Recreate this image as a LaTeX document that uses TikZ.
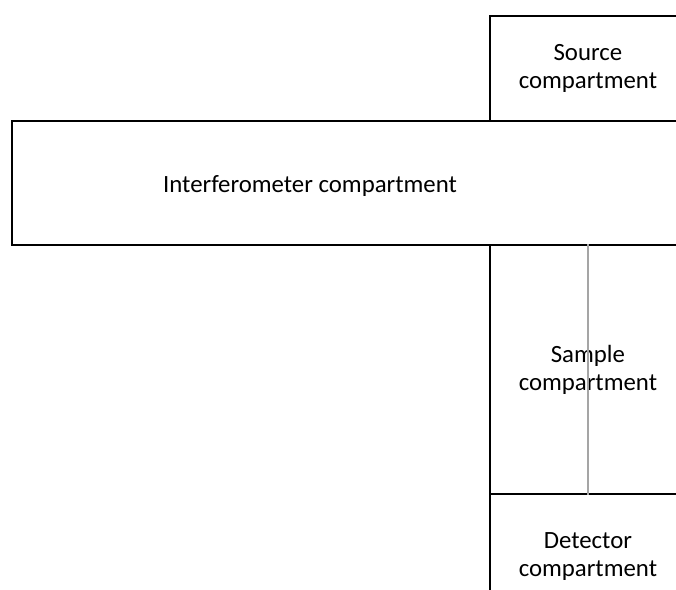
\documentclass[tikz,border=0pt]{standalone}
\usepackage{fontspec}
\setmainfont{Carlito}
\definecolor{beamgray}{RGB}{165,165,165}

\begin{document}
\begin{tikzpicture}[x=1pt,y=-1pt,font=\fontsize{24.8}{28}\selectfont,
  comp/.style={draw,line width=1.8pt,rectangle,anchor=north west,inner sep=0pt,
    align=center,minimum width=196pt},
  beam/.style={draw=beamgray,line width=1.4pt}]
\useasboundingbox (0,0) rectangle (676,589);
\clip (0,0) rectangle (676,589);
% compartments
\node[comp,minimum height=105pt] (source) at (489,15) {Source\\compartment};
\node[comp,minimum width=700pt,minimum height=124pt] (interf) at (11,120) {};
\node (interflab) at (310,186) {Interferometer compartment};
\node[comp,minimum height=249pt] (sample) at (489,244) {Sample\\compartment};
\node[comp,minimum height=126pt] (detector) at (489,493) {Detector\\compartment};
% beam through the sample
\draw[beam] (sample.north) -- (sample.south);
\end{tikzpicture}
\end{document}
